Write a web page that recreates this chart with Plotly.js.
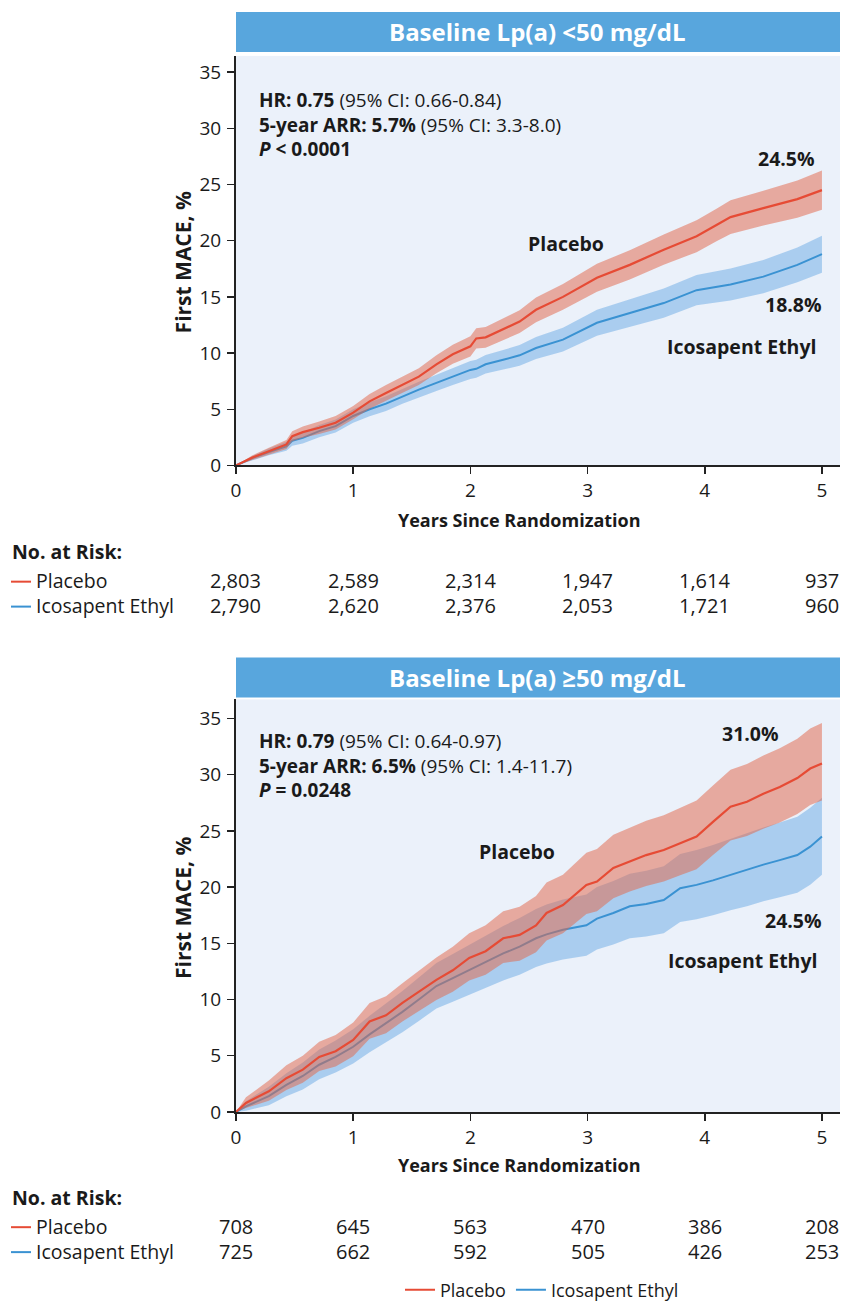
<!DOCTYPE html>
<html>
<head>
<meta charset="utf-8">
<script src="https://cdn.plot.ly/plotly-3.0.1.min.js"></script>
<style>
  html, body { margin: 0; padding: 0; background: #ffffff; }
  #chart { width: 856px; height: 1309px; }
</style>
</head>
<body>
<div id="chart"></div>
<script>
// ---------------- DATA ----------------
// Panel 1: Baseline Lp(a) <50 mg/dL
var topTime = [0, 0.14, 0.28, 0.43, 0.48, 0.57, 0.71, 0.85, 1.0, 1.14, 1.28, 1.42, 1.56, 1.71, 1.85, 2.0, 2.05, 2.13, 2.28, 2.42, 2.56, 2.79, 3.08, 3.36, 3.65, 3.93, 4.1, 4.22, 4.5, 4.79, 5.0];
var topPlacebo      = [0, 0.7, 1.27, 1.87, 2.6, 2.96, 3.35, 3.8, 4.7, 5.7, 6.45, 7.2, 7.9, 9.0, 9.9, 10.6, 11.3, 11.4, 12.1, 12.8, 13.85, 15.0, 16.7, 17.85, 19.2, 20.4, 21.4, 22.1, 22.9, 23.7, 24.5];
var topPlaceboLower = [0, 0.5, 0.97, 1.47, 2.15, 2.46, 2.8, 3.2, 4.1, 5.05, 5.75, 6.48, 7.15, 8.2, 9.05, 9.7, 10.4, 10.48, 11.13, 11.78, 12.75, 13.85, 15.45, 16.55, 17.85, 18.98, 19.95, 20.6, 21.35, 22.05, 22.75];
var topPlaceboUpper = [0, 0.9, 1.57, 2.27, 3.05, 3.46, 3.9, 4.4, 5.3, 6.35, 7.15, 7.92, 8.65, 9.8, 10.75, 11.5, 12.2, 12.32, 13.07, 13.82, 14.95, 16.15, 17.95, 19.15, 20.55, 21.82, 22.85, 23.6, 24.45, 25.35, 26.25];
var topIcosapent      = [0, 0.65, 1.2, 1.7, 2.2, 2.45, 3.05, 3.5, 4.4, 5.0, 5.5, 6.15, 6.75, 7.35, 7.9, 8.5, 8.6, 9.0, 9.4, 9.8, 10.45, 11.2, 12.7, 13.55, 14.45, 15.6, 15.9, 16.1, 16.8, 17.85, 18.8];
var topIcosapentLower = [0, 0.45, 0.9, 1.3, 1.75, 1.95, 2.5, 2.92, 3.8, 4.38, 4.85, 5.48, 6.05, 6.63, 7.15, 7.7, 7.8, 8.18, 8.53, 8.88, 9.47, 10.15, 11.55, 12.33, 13.15, 14.25, 14.52, 14.68, 15.32, 16.3, 17.15];
var topIcosapentUpper = [0, 0.85, 1.5, 2.1, 2.65, 2.95, 3.6, 4.08, 5.0, 5.62, 6.15, 6.82, 7.45, 8.07, 8.65, 9.3, 9.4, 9.82, 10.27, 10.72, 11.43, 12.25, 13.85, 14.77, 15.75, 16.95, 17.28, 17.52, 18.28, 19.4, 20.45];

// Panel 2: Baseline Lp(a) >=50 mg/dL
var botTime = [0, 0.085, 0.28, 0.43, 0.57, 0.71, 0.85, 1.0, 1.14, 1.28, 1.42, 1.56, 1.71, 1.85, 1.99, 2.13, 2.28, 2.42, 2.56, 2.65, 2.79, 2.99, 3.08, 3.22, 3.36, 3.5, 3.65, 3.79, 3.93, 4.07, 4.22, 4.36, 4.5, 4.64, 4.79, 4.9, 5.0];
var botPlacebo      = [0, 0.8, 1.84, 3.0, 3.76, 4.9, 5.4, 6.4, 8.05, 8.6, 9.7, 10.7, 11.75, 12.6, 13.7, 14.3, 15.45, 15.75, 16.6, 17.7, 18.4, 20.2, 20.5, 21.7, 22.3, 22.85, 23.3, 23.9, 24.5, 25.8, 27.15, 27.6, 28.3, 28.9, 29.7, 30.55, 31.0];
var botPlaceboLower = [0, 0.35, 1.0, 1.95, 2.6, 3.65, 4.05, 4.95, 6.5, 7.0, 8.05, 8.95, 9.95, 10.7, 11.7, 12.2, 13.25, 13.45, 14.2, 15.25, 15.9, 17.6, 17.85, 19.0, 19.6, 20.1, 20.5, 21.05, 21.6, 22.85, 24.15, 24.55, 25.2, 25.75, 26.5, 27.3, 27.7];
var botPlaceboUpper = [0, 1.3, 2.8, 4.15, 5.0, 6.25, 6.85, 7.95, 9.7, 10.3, 11.45, 12.6, 13.75, 14.7, 15.9, 16.6, 17.85, 18.25, 19.2, 20.4, 21.1, 23.05, 23.4, 24.65, 25.3, 25.9, 26.4, 27.05, 27.7, 29.05, 30.45, 30.95, 31.7, 32.35, 33.2, 34.1, 34.6];
var botIcosapent      = [0, 0.5, 1.4, 2.4, 3.2, 4.2, 4.9, 5.8, 6.9, 7.9, 8.9, 10.0, 11.2, 11.9, 12.6, 13.3, 14.1, 14.7, 15.45, 15.8, 16.2, 16.6, 17.2, 17.7, 18.3, 18.5, 18.85, 19.9, 20.2, 20.6, 21.1, 21.5, 22.0, 22.4, 22.85, 23.6, 24.5];
var botIcosapentLower = [0, 0.1, 0.6, 1.4, 2.0, 2.9, 3.5, 4.3, 5.3, 6.2, 7.1, 8.1, 9.2, 9.8, 10.4, 11.0, 11.7, 12.2, 12.9, 13.2, 13.55, 13.9, 14.45, 14.9, 15.45, 15.6, 15.9, 16.9, 17.15, 17.5, 17.95, 18.3, 18.75, 19.1, 19.5, 20.2, 21.1];
var botIcosapentUpper = [0, 0.95, 2.25, 3.45, 4.4, 5.55, 6.35, 7.35, 8.55, 9.65, 10.75, 11.95, 13.25, 14.05, 14.85, 15.65, 16.55, 17.25, 18.05, 18.45, 18.9, 19.35, 20.0, 20.55, 21.2, 21.45, 21.85, 22.95, 23.3, 23.75, 24.3, 24.75, 25.3, 25.75, 26.25, 27.05, 27.95];

// Axes ticks
var xTicks = [0, 1, 2, 3, 4, 5];
var yTicks = [0, 5, 10, 15, 20, 25, 30, 35];

// Numbers at risk
var riskYears = [0, 1, 2, 3, 4, 5];
var riskTopPlacebo   = ["2,803", "2,589", "2,314", "1,947", "1,614", "937"];
var riskTopIcosapent = ["2,790", "2,620", "2,376", "2,053", "1,721", "960"];
var riskBotPlacebo   = ["708", "645", "563", "470", "386", "208"];
var riskBotIcosapent = ["725", "662", "592", "505", "426", "253"];

// Texts
var panelTitles = ["Baseline Lp(a) &lt;50 mg/dL", "Baseline Lp(a) ≥50 mg/dL"];
var seriesNames = ["Placebo", "Icosapent Ethyl"];

// ---------------- STYLE ----------------
var W = 856, H = 1309;
var FONT = "Open Sans, Noto Sans, sans-serif";
var TXT = "#1a1a1a";
var RED = "#E64B35", BLUE = "#3A92D2";
var RED_BAND = "rgba(226,104,74,0.52)", BLUE_BAND = "rgba(92,162,226,0.45)";
var HEADER = "#58A6DD";
function px(x) { return x / W; }
function py(y) { return 1 - y / H; }

var traces = [];
function addPanel(t, pl, plLo, plHi, ie, ieLo, ieHi, xa, ya, legend) {
  traces.push({x: t, y: ieLo, xaxis: xa, yaxis: ya, mode: "lines", line: {width: 0, color: BLUE_BAND}, showlegend: false, hoverinfo: "skip"});
  traces.push({x: t, y: ieHi, xaxis: xa, yaxis: ya, mode: "lines", line: {width: 0, color: BLUE_BAND}, fill: "tonexty", fillcolor: BLUE_BAND, showlegend: false, hoverinfo: "skip"});
  traces.push({x: t, y: ie, xaxis: xa, yaxis: ya, mode: "lines", name: seriesNames[1], line: {width: 2, color: BLUE}, showlegend: legend, legendrank: 2});
  traces.push({x: t, y: plLo, xaxis: xa, yaxis: ya, mode: "lines", line: {width: 0, color: RED_BAND}, showlegend: false, hoverinfo: "skip"});
  traces.push({x: t, y: plHi, xaxis: xa, yaxis: ya, mode: "lines", line: {width: 0, color: RED_BAND}, fill: "tonexty", fillcolor: RED_BAND, showlegend: false, hoverinfo: "skip"});
  traces.push({x: t, y: pl, xaxis: xa, yaxis: ya, mode: "lines", name: seriesNames[0], line: {width: 2.2, color: RED}, showlegend: legend, legendrank: 1});
}
addPanel(topTime, topPlacebo, topPlaceboLower, topPlaceboUpper, topIcosapent, topIcosapentLower, topIcosapentUpper, "x", "y", true);
addPanel(botTime, botPlacebo, botPlaceboLower, botPlaceboUpper, botIcosapent, botIcosapentLower, botIcosapentUpper, "x2", "y2", false);

function xAxis(anchor) {
  return {
    domain: [px(236), px(840)], range: [0, 5.154], anchor: anchor,
    tickmode: "array", tickvals: xTicks, ticktext: xTicks.map(String),
    ticks: "outside", ticklen: 7, tickwidth: 1.5, tickcolor: "#222",
    showline: true, linecolor: "#222", linewidth: 2,
    showgrid: false, zeroline: false, fixedrange: true,
    tickfont: {family: FONT, size: 19, color: TXT}, ticklabelstandoff: 0
  };
}
function yAxis(anchor, dom, top) {
  return {
    domain: dom, range: [0, top], anchor: anchor,
    tickmode: "array", tickvals: yTicks, ticktext: yTicks.map(String),
    ticks: "outside", ticklen: 7, tickwidth: 1.5, tickcolor: "#222",
    showline: true, linecolor: "#222", linewidth: 2,
    showgrid: false, zeroline: false, fixedrange: true,
    tickfont: {family: FONT, size: 19, color: TXT}, ticklabelstandoff: 2
  };
}

var ann = [];
var shapes = [];
function A(o) { ann.push(Object.assign({showarrow: false, font: {family: FONT, size: 17, color: TXT}}, o)); }

function panelDecor(p) {
  var off = p.off, xr = p.xr;
  // header bar
  shapes.push({type: "rect", xref: "paper", yref: "paper", x0: px(236), x1: px(840), y0: py(52 + off), y1: py(12 + off), fillcolor: HEADER, line: {width: 0}, layer: "below"});
  A({xref: "paper", yref: "paper", x: px(537), y: py(32 + off), xanchor: "center", yanchor: "middle", text: "<b>" + p.title + "</b>", font: {family: FONT, size: 24, color: "#ffffff"}});
  // stats (one multi-line block)
  A({xref: "paper", yref: "paper", x: px(257), y: py(124.5 + off + p.sdy), xanchor: "left", yanchor: "middle", align: "left",
     text: p.l1 + "<br>" + p.l2 + "<br>" + p.l3, font: {family: FONT, size: 19, color: TXT}});
  // curve labels
  p.labels.forEach(function (l) {
    A({xref: "paper", yref: "paper", x: px(l[0]), y: py(l[1]), xanchor: l[3], yanchor: "middle", text: "<b>" + l[2] + "</b>", font: {family: FONT, size: 19.5, color: TXT}});
  });
  // axis titles
  A({xref: "paper", yref: "paper", x: px(183), y: py(p.yc), xanchor: "center", yanchor: "middle", textangle: -90, text: "<b>First MACE, %</b>", font: {family: FONT, size: 21, color: TXT}});
  A({xref: xr, yref: "paper", x: 2.42, y: py(521 + off), xanchor: "center", yanchor: "middle", text: "<b>Years Since Randomization</b>", font: {family: FONT, size: 18, color: TXT}});
  // number at risk
  var tf = {family: FONT, size: 20, color: TXT};
  A({xref: "paper", yref: "paper", x: px(10), y: py(553 + off), xanchor: "left", yanchor: "middle", text: "<b>No. at Risk:</b>", font: {family: FONT, size: 19.5, color: TXT}});
  A({xref: "paper", yref: "paper", x: px(34), y: py(582 + off), xanchor: "left", yanchor: "middle", text: seriesNames[0], font: {family: FONT, size: 19.5, color: TXT}});
  A({xref: "paper", yref: "paper", x: px(34), y: py(607 + off), xanchor: "left", yanchor: "middle", text: seriesNames[1], font: {family: FONT, size: 19.5, color: TXT}});
  shapes.push({type: "line", xref: "paper", yref: "paper", x0: px(11), x1: px(31), y0: py(583 + off), y1: py(583 + off), line: {color: RED, width: 2}});
  shapes.push({type: "line", xref: "paper", yref: "paper", x0: px(11), x1: px(31), y0: py(608 + off), y1: py(608 + off), line: {color: BLUE, width: 2}});
  riskYears.forEach(function (yr, i) {
    A({xref: xr, yref: "paper", x: yr, y: py(582 + off), xanchor: "center", yanchor: "middle", text: p.rp[i], font: tf});
    A({xref: xr, yref: "paper", x: yr, y: py(607 + off), xanchor: "center", yanchor: "middle", text: p.ri[i], font: tf});
  });
}

panelDecor({
  off: 0, xr: "x", sdy: 0, yc: 263, title: panelTitles[0],
  l1: "<b>HR: 0.75</b> (95% CI: 0.66-0.84)",
  l2: "<b>5-year ARR: 5.7%</b> (95% CI: 3.3-8.0)",
  l3: "<b><i>P</i> &lt; 0.0001</b>",
  labels: [[566, 244, "Placebo", "center"], [786, 159, "24.5%", "center"], [824, 305, "18.8%", "right"], [741, 347, "Icosapent Ethyl", "center"]],
  rp: riskTopPlacebo, ri: riskTopIcosapent
});
panelDecor({
  off: 647, xr: "x2", sdy: -4, yc: 910, title: panelTitles[1],
  l1: "<b>HR: 0.79</b> (95% CI: 0.64-0.97)",
  l2: "<b>5-year ARR: 6.5%</b> (95% CI: 1.4-11.7)",
  l3: "<b><i>P</i> = 0.0248</b>",
  labels: [[517, 853, "Placebo", "center"], [750, 735, "31.0%", "center"], [824, 923, "24.5%", "right"], [742, 963, "Icosapent Ethyl", "center"]],
  rp: riskBotPlacebo, ri: riskBotIcosapent
});

var layout = {
  width: W, height: H,
  margin: {l: 0, r: 0, t: 0, b: 0},
  paper_bgcolor: "#ffffff",
  plot_bgcolor: "#EBF1FA",
  font: {family: FONT, size: 17, color: TXT},
  xaxis: xAxis("y"),
  yaxis: yAxis("x", [py(466.5), py(56)], 36.45),
  xaxis2: xAxis("y2"),
  yaxis2: yAxis("x2", [py(1114.5), py(701)], 36.7),
  showlegend: true,
  legend: {orientation: "h", x: px(542), xanchor: "center", y: py(1293), yanchor: "middle",
           bgcolor: "rgba(0,0,0,0)", font: {family: FONT, size: 18, color: TXT}, itemwidth: 30, traceorder: "normal"},
  annotations: ann,
  shapes: shapes
};

Plotly.newPlot("chart", traces, layout, {displayModeBar: false, staticPlot: true});
</script>
</body>
</html>
